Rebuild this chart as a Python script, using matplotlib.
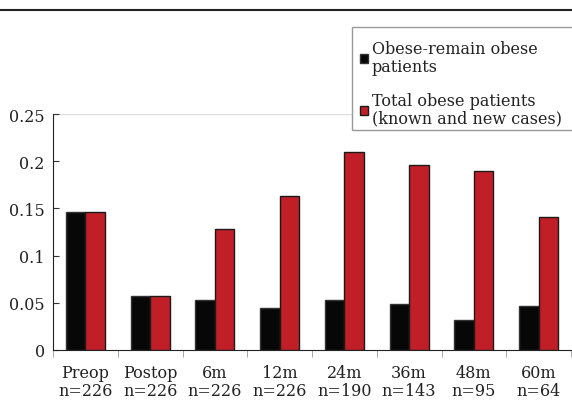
import matplotlib.pyplot as plt
import numpy as np
from matplotlib.lines import Line2D
from matplotlib.patches import Rectangle

categories = ["Preop\nn=226", "Postop\nn=226", "6m\nn=226", "12m\nn=226",
              "24m\nn=190", "36m\nn=143", "48m\nn=95", "60m\nn=64"]
remain_obese = [0.146, 0.0575, 0.053, 0.044, 0.0525, 0.049, 0.032, 0.047]
total_obese = [0.146, 0.0575, 0.128, 0.163, 0.210, 0.1955, 0.1895, 0.1405]
y_ticks = [0, 0.05, 0.1, 0.15, 0.2, 0.25]
y_labels = ["0", "0.05", "0.1", "0.15", "0.2", "0.25"]

plt.rcParams['font.family'] = ['DejaVu Serif']

W, H = 572, 402
fig = plt.figure(figsize=(W / 100, H / 100), dpi=100)
ax = fig.add_axes([53 / W, 1 - 351 / H, 518 / W, 236 / H])

x = np.arange(len(categories))
w = 0.3
ax.bar(x - w / 2, remain_obese, w, color="#070707", edgecolor="#333333", linewidth=1.0,
       label="Obese-remain obese\npatients", zorder=3)
ax.bar(x + w / 2, total_obese, w, color="#C01F27", edgecolor="#1a1a1a", linewidth=1.0,
       label="Total obese patients\n(known and new cases)", zorder=3)

ax.set_xlim(-0.5, len(categories) - 0.5)
ax.set_ylim(0, 0.25)
ax.set_yticks(y_ticks)
ax.set_yticklabels(y_labels, fontsize=11.5, color="#222222")
ax.set_xticks(x)
ax.set_xticklabels(categories, fontsize=11.5, color="#222222", linespacing=1.05)
ax.tick_params(axis="x", length=0, pad=10)
ax.set_xticks(np.arange(-0.5, len(categories), 1), minor=True)
ax.tick_params(axis="x", which="minor", length=5, color="#999999")
ax.tick_params(axis="y", length=4, direction="in", color="#333333", pad=6)
ax.axhline(0.25, color="#dddddd", linewidth=1, zorder=1)

for s in ["top", "right"]:
    ax.spines[s].set_visible(False)
ax.spines["left"].set_color("#222222")
ax.spines["bottom"].set_color("#222222")

# legend box runs off the right edge of the figure
fig.add_artist(Rectangle((352 / W, 1 - 131 / H), 240 / W, 103 / H,
                         transform=fig.transFigure, facecolor="white",
                         edgecolor="#999999", linewidth=1.0, zorder=5))
leg = fig.legend(loc="upper left", bbox_to_anchor=(360 / W, 1 - 41 / H),
                 fontsize=11.5, frameon=False, handlelength=0.5,
                 handleheight=0.5, handletextpad=0.25, borderpad=0,
                 borderaxespad=0, labelspacing=1.1)
leg.set_zorder(6)
for t in leg.get_texts():
    t.set_linespacing(1.05)
    t.set_color("#222222")

fig.add_artist(Line2D([0, 1], [1 - 11 / H, 1 - 11 / H], color="#222222",
                      linewidth=1.5, transform=fig.transFigure))

fig.savefig("out.png", dpi=100)
plt.close(fig)
